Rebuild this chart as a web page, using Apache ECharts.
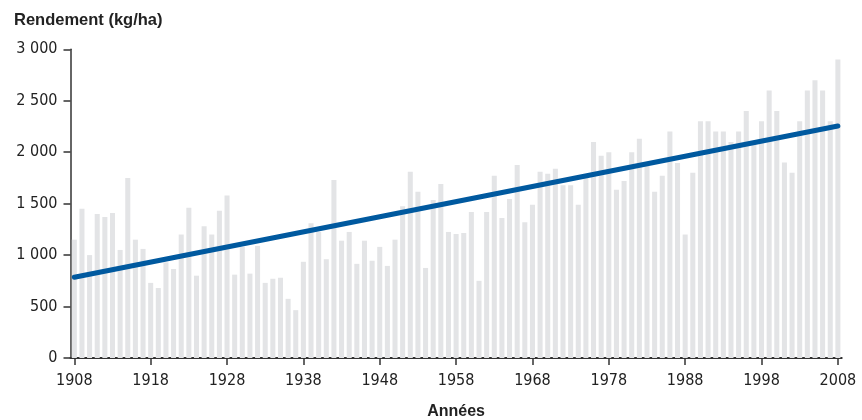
<!DOCTYPE html>
<html>
<head>
<meta charset="utf-8">
<script src="https://cdn.jsdelivr.net/npm/echarts@6/dist/echarts.min.js"></script>
<style>
  html, body { margin: 0; padding: 0; background: #fff; }
  #chart { width: 862px; height: 420px; }
</style>
</head>
<body>
<div id="chart"></div>
<script>
// Harvest years, one bar per year
const years = [];
for (let y = 1908; y <= 2008; y++) years.push(String(y));

// Yield per year (kg/ha)
const yields = [
  1150, 1450, 1000, 1400, 1370, 1410, 1050, 1750, 1150, 1060,
  730, 680, 930, 865, 1200, 1460, 800, 1280, 1200, 1430,
  1580, 810, 1080, 820, 1090, 730, 770, 780, 575, 465,
  935, 1310, 1225, 960, 1730, 1140, 1225, 915, 1140, 945,
  1080, 895, 1150, 1475, 1810, 1615, 875, 1535, 1690, 1225,
  1205, 1215, 1420, 750, 1420, 1770, 1360, 1545, 1875, 1320,
  1490, 1810, 1790, 1840, 1680, 1680, 1490, 1760, 2100, 1965,
  2000, 1635, 1720, 2000, 2130, 1870, 1615, 1770, 2200, 1895,
  1200, 1800, 2300, 2300, 2200, 2200, 2100, 2200, 2400, 2080,
  2300, 2600, 2400, 1900, 1800, 2300, 2600, 2700, 2600, 2300,
  2900
];

// Linear trend, end points
const trendYears = ['1908', '2008'];
const trendValues = [785, 2255];

// Y tick labels
const yTicks = [0, 500, 1000, 1500, 2000, 2500, 3000];
const fmtThousands = v => v >= 1000
  ? Math.floor(v / 1000) + ' ' + String(v % 1000).padStart(3, '0')
  : String(v);

const narrow = '"Liberation Sans Narrow", "DejaVu Sans Condensed", sans-serif';
const boldFont = '"Liberation Sans", Arial, sans-serif';
const showEvery10 = (i) => i % 10 === 0;

const chart = echarts.init(document.getElementById('chart'), null, { renderer: 'canvas' });
chart.setOption({
  animation: false,
  backgroundColor: '#ffffff',
  title: {
    text: 'Rendement (kg/ha)',
    left: 9, top: 7,
    textStyle: { fontFamily: boldFont, fontWeight: 'bold', fontSize: 16.5, color: '#222' }
  },
  grid: { left: 70.5, right: 20.3, top: 49.3, bottom: 62, containLabel: false, outerBoundsMode: 'none' },
  xAxis: {
    type: 'category',
    data: years,
    boundaryGap: true,
    name: 'Années',
    nameLocation: 'middle',
    nameGap: 46,
    nameTextStyle: { fontFamily: boldFont, fontWeight: 'bold', fontSize: 16, color: '#222' },
    axisLine: { show: true, lineStyle: { color: '#333', width: 2 } },
    axisTick: { show: true, interval: (i) => showEvery10(i), alignWithLabel: true, length: 7, lineStyle: { color: '#333', width: 1.5 } },
    axisLabel: { interval: (i) => showEvery10(i), margin: 15, fontFamily: narrow, fontSize: 16, color: '#222' },
    splitLine: { show: false }
  },
  yAxis: {
    type: 'value',
    min: yTicks[0], max: yTicks[yTicks.length - 1], interval: 500,
    axisLine: { show: true, lineStyle: { color: '#333', width: 1.5 } },
    axisTick: { show: true, length: 7, lineStyle: { color: '#333', width: 1.5 } },
    axisLabel: { margin: 13, formatter: fmtThousands, fontFamily: narrow, fontSize: 16, color: '#222' },
    splitLine: { show: false }
  },
  series: [
    {
      type: 'bar',
      data: yields,
      barWidth: '66%',
      itemStyle: { color: '#e3e4e6' },
      silent: true
    },
    {
      type: 'line',
      data: trendYears.map((y, i) => [y, trendValues[i]]),
      symbol: 'none',
      lineStyle: { color: '#00599f', width: 5, cap: 'round' },
      z: 5,
      silent: true
    }
  ]
});
</script>
</body>
</html>
